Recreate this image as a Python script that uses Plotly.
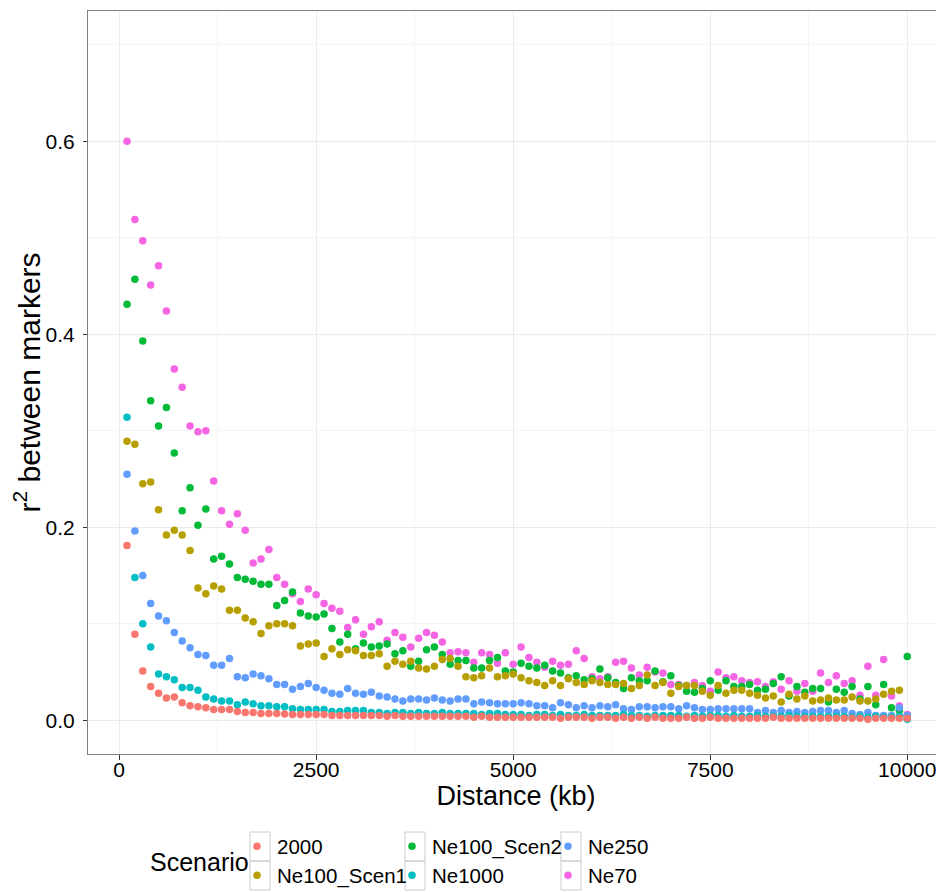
import plotly.graph_objects as go

distance_kb = list(range(100, 10001, 100))

scenarios = ["2000", "Ne100_Scen1", "Ne100_Scen2", "Ne1000", "Ne250", "Ne70"]

r2_2000 = [
    0.181, 0.089, 0.051, 0.035, 0.028, 0.023, 0.024, 0.018, 0.015, 0.014,
    0.013, 0.011, 0.011, 0.011, 0.009, 0.008, 0.008, 0.007, 0.007, 0.007,
    0.0065, 0.006, 0.006, 0.006, 0.006, 0.006, 0.005, 0.005, 0.005, 0.005,
    0.005, 0.005, 0.005, 0.004, 0.005, 0.004, 0.004, 0.004, 0.004, 0.004,
    0.004, 0.004, 0.004, 0.004, 0.003, 0.004, 0.003, 0.003, 0.003, 0.003,
    0.003, 0.003, 0.003, 0.003, 0.003, 0.002, 0.003, 0.003, 0.003, 0.002,
    0.003, 0.003, 0.002, 0.003, 0.002, 0.003, 0.002, 0.003, 0.002, 0.002,
    0.002, 0.003, 0.002, 0.002, 0.003, 0.002, 0.002, 0.002, 0.002, 0.002,
    0.002, 0.002, 0.003, 0.002, 0.002, 0.002, 0.002, 0.002, 0.002, 0.002,
    0.002, 0.002, 0.002, 0.002, 0.001, 0.002, 0.002, 0.002, 0.002, 0.002,
]

r2_ne100_scen1 = [
    0.289, 0.286, 0.245, 0.247, 0.218, 0.192, 0.197, 0.192, 0.176, 0.137,
    0.131, 0.139, 0.136, 0.114, 0.114, 0.106, 0.102, 0.090, 0.098, 0.100,
    0.100, 0.098, 0.077, 0.079, 0.080, 0.066, 0.074, 0.068, 0.073, 0.072,
    0.067, 0.067, 0.069, 0.056, 0.061, 0.058, 0.061, 0.054, 0.053, 0.056,
    0.063, 0.064, 0.056, 0.045, 0.044, 0.046, 0.054, 0.045, 0.046, 0.048,
    0.044, 0.041, 0.039, 0.036, 0.041, 0.036, 0.043, 0.039, 0.037, 0.041,
    0.039, 0.037, 0.037, 0.038, 0.033, 0.036, 0.047, 0.036, 0.039, 0.028,
    0.035, 0.036, 0.036, 0.030, 0.026, 0.036, 0.028, 0.031, 0.031, 0.028,
    0.026, 0.023, 0.025, 0.019, 0.027, 0.022, 0.025, 0.020, 0.021, 0.023,
    0.021, 0.021, 0.024, 0.020, 0.020, 0.022, 0.027, 0.030, 0.031, 0.004,
]

r2_ne100_scen2 = [
    0.431, 0.457, 0.393, 0.331, 0.305, 0.324, 0.277, 0.217, 0.241, 0.202,
    0.219, 0.167, 0.170, 0.162, 0.148, 0.146, 0.144, 0.141, 0.141, 0.119,
    0.124, 0.133, 0.111, 0.108, 0.107, 0.110, 0.095, 0.081, 0.089, 0.074,
    0.080, 0.076, 0.077, 0.079, 0.069, 0.072, 0.056, 0.061, 0.073, 0.076,
    0.068, 0.058, 0.062, 0.062, 0.054, 0.054, 0.062, 0.065, 0.051, 0.050,
    0.059, 0.056, 0.054, 0.057, 0.051, 0.049, 0.044, 0.046, 0.042, 0.043,
    0.053, 0.044, 0.039, 0.033, 0.044, 0.041, 0.041, 0.051, 0.040, 0.046,
    0.036, 0.030, 0.029, 0.033, 0.041, 0.031, 0.041, 0.035, 0.035, 0.037,
    0.031, 0.032, 0.038, 0.045, 0.025, 0.035, 0.029, 0.033, 0.033, 0.019,
    0.032, 0.029, 0.035, 0.022, 0.035, 0.016, 0.037, 0.013, 0.010, 0.066,
]

r2_ne1000 = [
    0.314, 0.148, 0.100, 0.076, 0.048, 0.045, 0.042, 0.034, 0.034, 0.031,
    0.024, 0.022, 0.020, 0.020, 0.016, 0.019, 0.017, 0.015, 0.015, 0.014,
    0.014, 0.012, 0.011, 0.011, 0.011, 0.011, 0.009, 0.009, 0.010, 0.010,
    0.010, 0.008, 0.008, 0.007, 0.008, 0.008, 0.007, 0.008, 0.007, 0.007,
    0.008, 0.007, 0.007, 0.007, 0.007, 0.006, 0.007, 0.007, 0.006, 0.006,
    0.006, 0.005, 0.006, 0.006, 0.005, 0.006, 0.005, 0.005, 0.006, 0.005,
    0.005, 0.005, 0.005, 0.006, 0.005, 0.005, 0.004, 0.005, 0.005, 0.005,
    0.005, 0.004, 0.005, 0.004, 0.005, 0.005, 0.004, 0.005, 0.004, 0.004,
    0.005, 0.004, 0.004, 0.004, 0.005, 0.004, 0.004, 0.004, 0.004, 0.004,
    0.004, 0.004, 0.003, 0.004, 0.003, 0.004, 0.003, 0.003, 0.004, 0.001,
]

r2_ne250 = [
    0.255, 0.196, 0.150, 0.121, 0.108, 0.103, 0.091, 0.082, 0.075, 0.068,
    0.067, 0.057, 0.057, 0.064, 0.045, 0.044, 0.048, 0.046, 0.043, 0.037,
    0.037, 0.032, 0.035, 0.038, 0.034, 0.031, 0.028, 0.027, 0.033, 0.028,
    0.027, 0.029, 0.025, 0.024, 0.022, 0.020, 0.022, 0.022, 0.021, 0.023,
    0.021, 0.020, 0.022, 0.022, 0.017, 0.019, 0.018, 0.017, 0.017, 0.017,
    0.018, 0.017, 0.015, 0.015, 0.013, 0.018, 0.016, 0.013, 0.015, 0.013,
    0.015, 0.014, 0.016, 0.012, 0.011, 0.014, 0.014, 0.013, 0.014, 0.014,
    0.012, 0.015, 0.013, 0.011, 0.011, 0.012, 0.012, 0.012, 0.012, 0.012,
    0.008, 0.010, 0.008, 0.010, 0.008, 0.009, 0.008, 0.009, 0.010, 0.010,
    0.008, 0.010, 0.007, 0.006, 0.008, 0.005, 0.005, 0.005, 0.013, 0.005,
]

r2_ne70 = [
    0.600, 0.519, 0.497, 0.451, 0.471, 0.424, 0.364, 0.345, 0.305, 0.299,
    0.300, 0.248, 0.217, 0.203, 0.214, 0.197, 0.163, 0.167, 0.177, 0.148,
    0.141, 0.131, 0.123, 0.136, 0.130, 0.121, 0.116, 0.113, 0.096, 0.104,
    0.089, 0.097, 0.102, 0.083, 0.091, 0.086, 0.076, 0.085, 0.091, 0.088,
    0.081, 0.070, 0.071, 0.070, 0.060, 0.070, 0.068, 0.059, 0.070, 0.058,
    0.076, 0.065, 0.060, 0.055, 0.061, 0.057, 0.058, 0.072, 0.064, 0.045,
    0.043, 0.045, 0.060, 0.061, 0.054, 0.047, 0.055, 0.050, 0.049, 0.037,
    0.037, 0.036, 0.039, 0.036, 0.030, 0.050, 0.044, 0.045, 0.041, 0.039,
    0.040, 0.035, 0.040, 0.032, 0.041, 0.030, 0.038, 0.030, 0.049, 0.039,
    0.046, 0.038, 0.041, 0.026, 0.056, 0.026, 0.063, 0.025, 0.015, 0.006,
]

x_ticks = [0, 2500, 5000, 7500, 10000]
y_ticks = [0.0, 0.2, 0.4, 0.6]

series = {
    "2000": r2_2000,
    "Ne100_Scen1": r2_ne100_scen1,
    "Ne100_Scen2": r2_ne100_scen2,
    "Ne1000": r2_ne1000,
    "Ne250": r2_ne250,
    "Ne70": r2_ne70,
}
colors = {
    "2000": "#F8766D",
    "Ne100_Scen1": "#B79F00",
    "Ne100_Scen2": "#00BA38",
    "Ne1000": "#00BFC4",
    "Ne250": "#619CFF",
    "Ne70": "#F564E3",
}

# The page body has an 8px margin, so the figure is laid out in page pixels
# shifted by 8 px, and sized to fit the 944x892 window.
OFF = 8
W, H = 944 - OFF, 892 - OFF
PANEL_L, PANEL_R, PANEL_T, PANEL_B = 88, 944, 11, 754   # page pixels
ML, MR, MT, MB = PANEL_L - OFF, W - (PANEL_R - OFF), PANEL_T - OFF, H - (PANEL_B - OFF)
PW, PH = W - ML - MR, H - MT - MB


def px_x(p):
    return (p - OFF - ML) / PW


def px_y(p):
    return (H - MB - (p - OFF)) / PH


# legend grid (ggplot style: 3 columns x 2 rows, column-major), page pixels
key_cols = [250, 405, 561]
key_rows = [832, 861, 890]
legend_slots = {
    "2000": (0, 0), "Ne100_Scen1": (0, 1),
    "Ne100_Scen2": (1, 0), "Ne1000": (1, 1),
    "Ne250": (2, 0), "Ne70": (2, 1),
}

draw_order = ["Ne70", "Ne100_Scen2", "Ne100_Scen1", "Ne250", "Ne1000", "2000"]

legend_font = dict(family="Liberation Sans, Arial", size=20.5, color="#000000")

fig = go.Figure()
legend_layouts = {}
for i, name in enumerate(scenarios):
    lname = "legend" if i == 0 else f"legend{i + 1}"
    col, row = legend_slots[name]
    kx = key_cols[col] + 8
    ky = (key_rows[row] + key_rows[row + 1]) / 2
    legend_layouts[lname] = dict(
        x=px_x(kx - 21), y=px_y(ky), xanchor="left", yanchor="middle",
        bgcolor="rgba(0,0,0,0)", borderwidth=0,
        font=legend_font, itemwidth=30,
    )

for name in draw_order:
    i = scenarios.index(name)
    lname = "legend" if i == 0 else f"legend{i + 1}"
    fig.add_trace(go.Scatter(
        x=distance_kb, y=series[name], mode="markers", name=name,
        marker=dict(color=colors[name], size=7.5, line=dict(width=0)),
        legend=lname,
    ))

shapes = []
for col in range(3):
    for row in range(2):
        shapes.append(dict(
            type="rect", xref="paper", yref="paper",
            x0=px_x(key_cols[col]), x1=px_x(key_cols[col] + 20),
            y0=px_y(key_rows[row]), y1=px_y(key_rows[row + 1]),
            line=dict(color="#CCCCCC", width=1), fillcolor="rgba(0,0,0,0)",
            layer="below",
        ))

axis_font = dict(family="Liberation Sans, Arial", size=21, color="#000000")

fig.update_layout(
    width=W, height=H,
    margin=dict(l=ML, r=MR, t=MT, b=MB, pad=0, autoexpand=False),
    paper_bgcolor="white", plot_bgcolor="white",
    showlegend=True,
    shapes=shapes,
    annotations=[dict(
        text="Scenario", xref="paper", yref="paper",
        x=px_x(199), y=px_y(862), xanchor="center", yanchor="middle",
        showarrow=False,
        font=dict(family="Liberation Sans, Arial", size=25, color="#000000"),
    )],
    **legend_layouts,
)

fig.update_xaxes(
    range=[-395, 10466], tickvals=x_ticks, tickformat="d", automargin=False,
    showgrid=True, gridcolor="#EBEBEB", gridwidth=1.1,
    minor=dict(dtick=1250, tick0=0, showgrid=True, gridcolor="#F4F4F4", gridwidth=1, ticks=""),
    showline=True, linecolor="#7F7F7F", linewidth=1, mirror=True,
    ticks="outside", ticklen=5, tickwidth=1.1, tickcolor="#333333",
    tickfont=axis_font, zeroline=False, ticklabelstandoff=-8,
    title=dict(text="Distance (kb)", standoff=0,
               font=dict(family="Liberation Sans, Arial", size=27, color="#000000")),
)
fig.update_yaxes(
    range=[-0.035, 0.735], tickvals=y_ticks, tickformat=".1f", automargin=False,
    showgrid=True, gridcolor="#EBEBEB", gridwidth=1.1,
    minor=dict(dtick=0.1, tick0=0, showgrid=True, gridcolor="#F4F4F4", gridwidth=1, ticks=""),
    showline=True, linecolor="#7F7F7F", linewidth=1, mirror=False,
    ticks="outside", ticklen=4, tickwidth=1.1, tickcolor="#333333",
    tickfont=axis_font, zeroline=False, ticklabelstandoff=4,
    title=dict(text="r<sup>2</sup> between markers", standoff=6,
               font=dict(family="Liberation Sans, Arial", size=30, color="#000000")),
)

fig.write_html("out.html")
